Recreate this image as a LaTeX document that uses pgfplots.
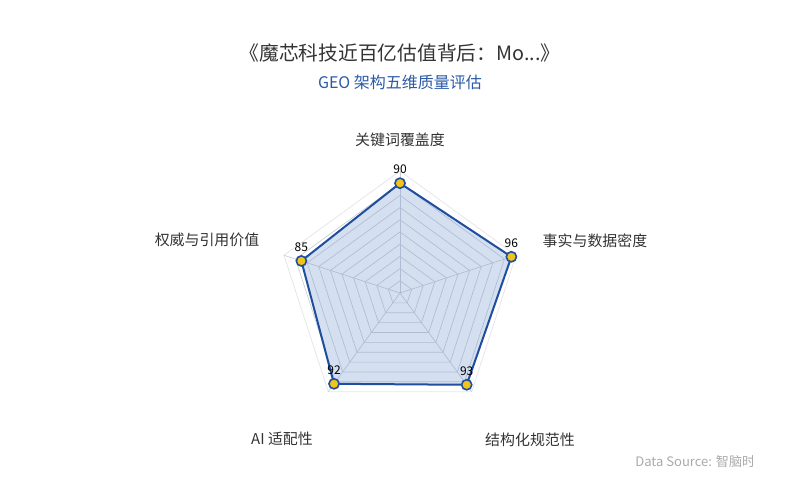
\documentclass[border=0pt]{standalone}
\usepackage{pgfplots}
\pgfplotsset{compat=1.18}
\usepackage{fontspec}
\setmainfont{Noto Sans CJK SC}
\definecolor{titlec}{HTML}{333333}
\definecolor{subc}{HTML}{2B5AA6}
\definecolor{linec}{HTML}{1F4E9E}
\definecolor{fillc}{HTML}{7A9BD0}
\definecolor{markc}{HTML}{F2C318}
\definecolor{gridc}{HTML}{C8CDD6}
\definecolor{gridout}{HTML}{E4E6EA}
\definecolor{srcc}{HTML}{AAAAAA}
\begin{document}
\begin{tikzpicture}[x=0.75pt,y=0.75pt]
\path (0,0) rectangle (800,500);
\node[text=titlec,font=\fontsize{14.8pt}{16pt}\selectfont] at (400,447) {《魔芯科技近百亿估值背后：Mo...》};
\node[text=subc,font=\fontsize{12pt}{13pt}\selectfont] at (400,418) {GEO 架构五维质量评估};
\begin{axis}[at={(300pt,155.25pt)},anchor=center,x=0.915pt,y=0.915pt,
  xmin=-150,xmax=150,ymin=-150,ymax=150,hide axis,clip=false]
\pgfplotsinvokeforeach{10,20,30,40,50,60,70,80,90}{
  \addplot[gridc,line width=0.5pt,data cs=polar] coordinates {(90,#1) (18,#1) (-54,#1) (-126,#1) (162,#1) (90,#1)};
}
\addplot[gridout,line width=0.6pt,data cs=polar] coordinates {(90,100) (18,100) (-54,100) (-126,100) (162,100) (90,100)};
\addplot[gridc,line width=0.5pt,data cs=polar] coordinates {(90,0) (90,100)};
\addplot[gridc,line width=0.5pt,data cs=polar] coordinates {(18,0) (18,100)};
\addplot[gridc,line width=0.5pt,data cs=polar] coordinates {(-54,0) (-54,100)};
\addplot[gridc,line width=0.5pt,data cs=polar] coordinates {(-126,0) (-126,100)};
\addplot[gridc,line width=0.5pt,data cs=polar] coordinates {(162,0) (162,100)};
\addplot[draw=linec,line width=1.5pt,fill=fillc,fill opacity=0.32,line join=round,data cs=polar] coordinates {(90,90) (18,96) (-54,93) (-126,92) (162,85) (90,90)};
\addplot[only marks,mark=*,mark size=3.8pt,mark options={fill=markc,draw=linec,line width=1.2pt},
  data cs=polar,point meta=explicit symbolic,nodes near coords,
  every node near coord/.append style={font=\fontsize{9pt}{10pt}\selectfont,text=black,anchor=south,yshift=3pt}]
  coordinates {(90,90) [90] (18,96) [96] (-54,93) [93] (-126,92) [92] (162,85) [85]};
\end{axis}
\begin{scope}[font=\fontsize{11.2pt}{12pt}\selectfont,text=titlec]
\node at (400,360) {关键词覆盖度};
\node[anchor=west] at (538,259) {事实与数据密度};
\node at (530,60) {结构化规范性};
\node at (282,61) {AI 适配性};
\node[anchor=east] at (264,260) {权威与引用价值};
\end{scope}
\begin{scope}
\clip (600,0) rectangle (752,60);
\node[anchor=west,text=srcc,font=\fontsize{9.8pt}{10pt}\selectfont,inner sep=0pt] at (635,38) {Data Source: 智脑时代};
\end{scope}
\end{tikzpicture}
\end{document}
